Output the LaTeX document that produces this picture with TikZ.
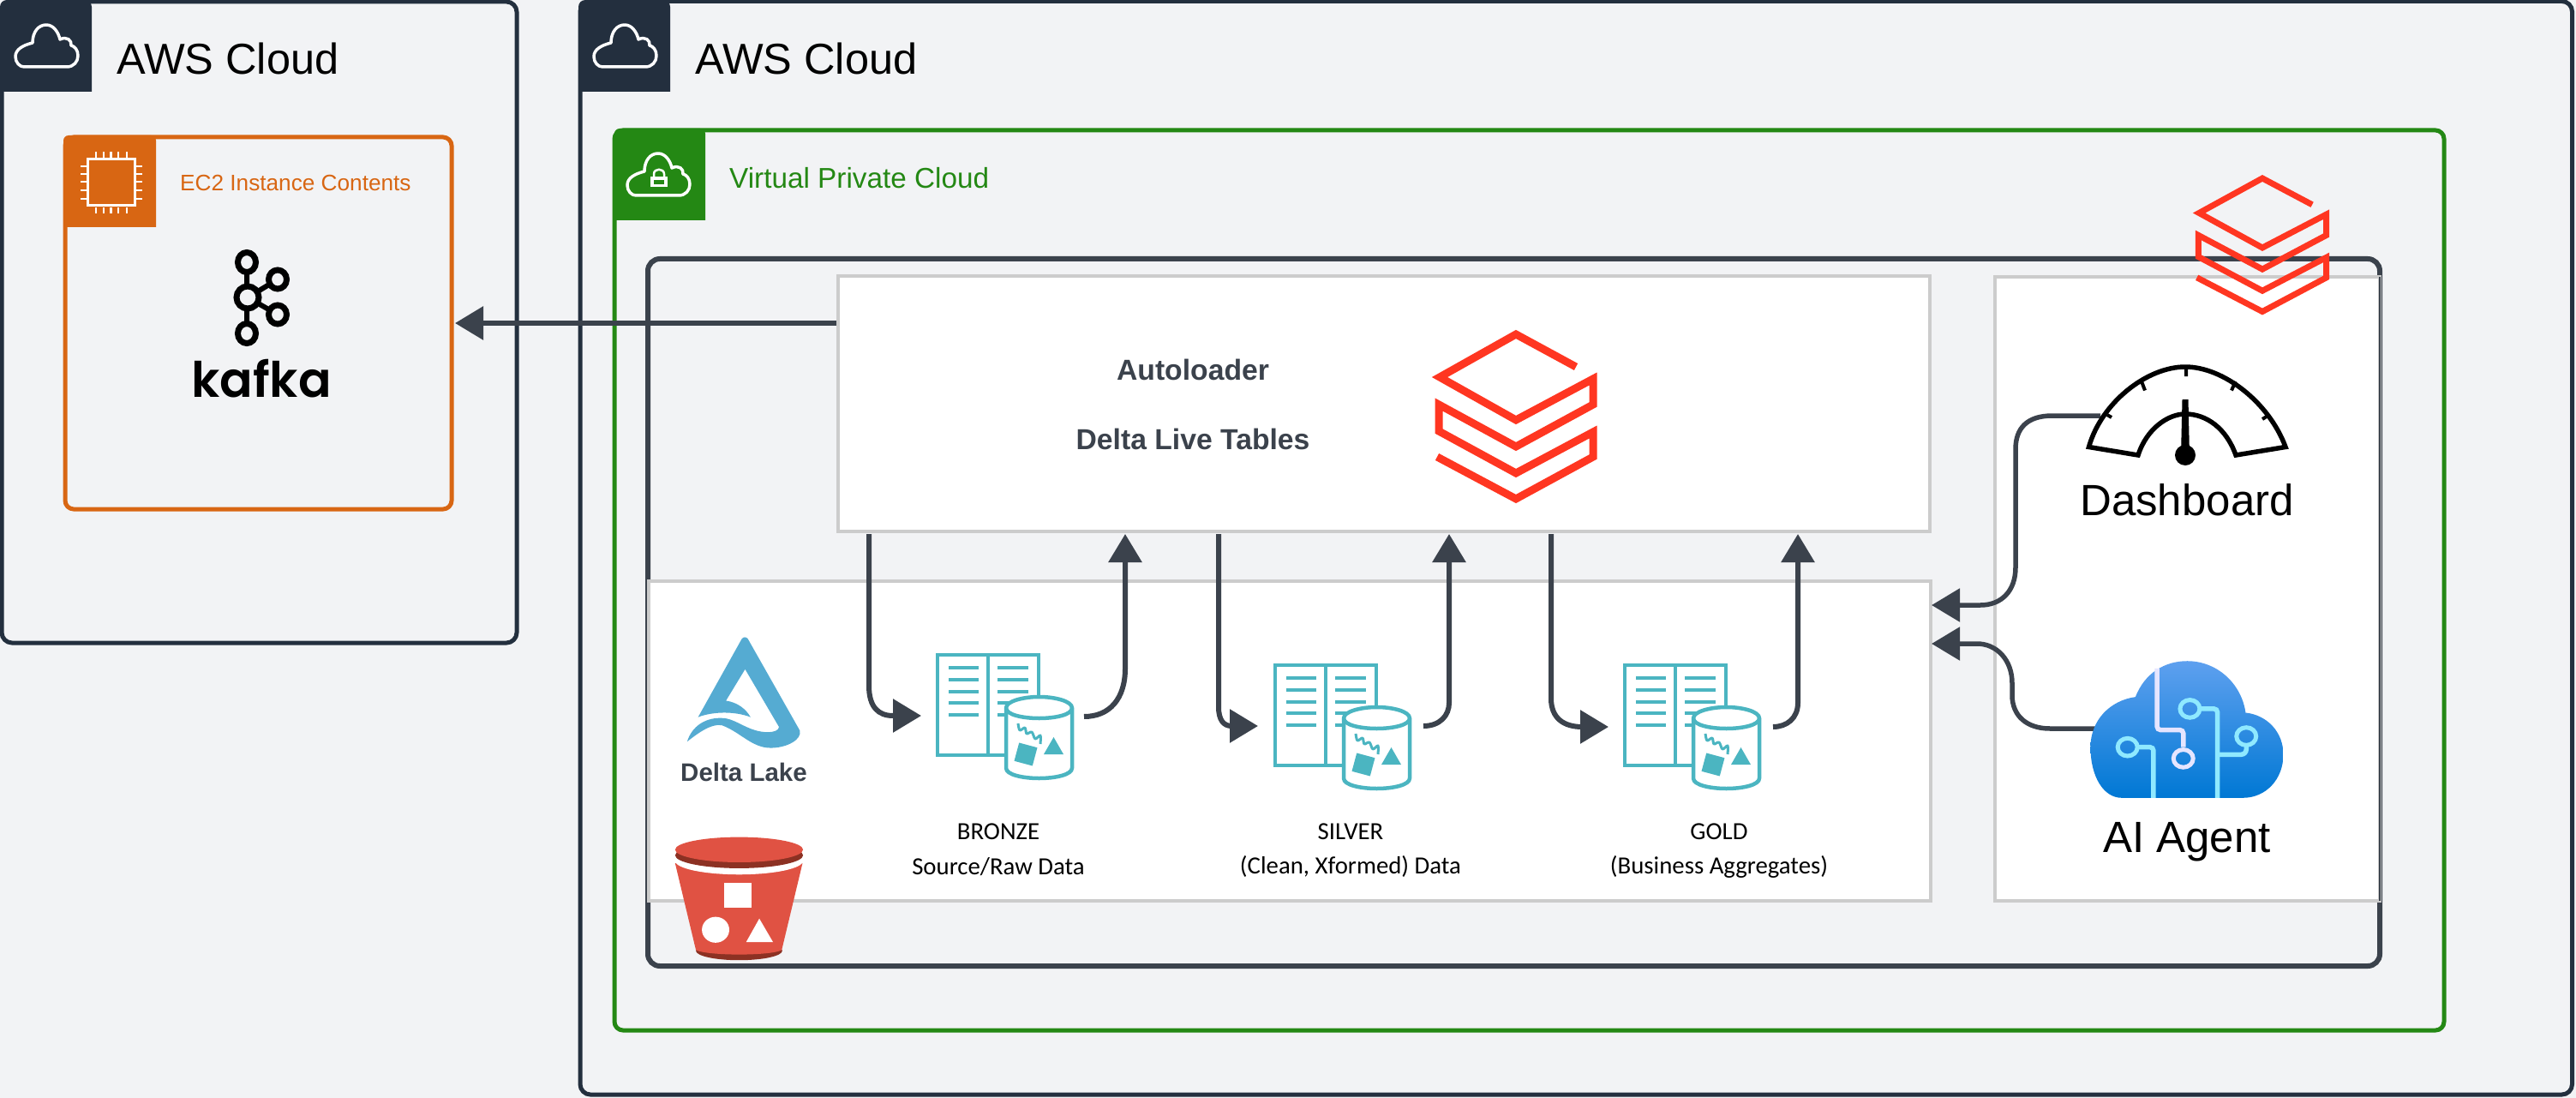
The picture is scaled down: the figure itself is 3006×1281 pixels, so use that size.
\documentclass[tikz,border=0pt]{standalone}
\usepackage{fontspec}
\usetikzlibrary{arrows.meta,calc}
\setmainfont{Liberation Sans}
\newfontfamily\lblfont{Carlito}
\newfontfamily\kafkafont{Poppins SemiBold}
\definecolor{pagebg}{HTML}{F2F3F5}
\definecolor{awsnavy}{HTML}{232F3E}
\definecolor{vpcgreen}{HTML}{248814}
\definecolor{ec2orange}{HTML}{D86613}
\definecolor{slateline}{HTML}{3B424C}
\definecolor{boxgray}{HTML}{CCCCCC}
\definecolor{teal}{HTML}{4BB5C1}
\definecolor{deltablue}{HTML}{55ABD2}
\definecolor{dbred}{HTML}{FF3621}
\definecolor{s3red}{HTML}{E05243}
\definecolor{s3dark}{HTML}{8C3123}
\definecolor{circuit}{HTML}{8FE9FF}
\definecolor{cloudtop}{HTML}{5EA0EF}
\definecolor{cloudbot}{HTML}{0078D4}
\newcommand{\fs}[1]{\fontsize{#1}{#1}\selectfont}
\tikzset{
  framebox/.style={draw=#1,rectangle,rounded corners=12pt,line width=5pt,inner sep=0pt,fill=pagebg},
  whitebox/.style={draw=boxgray,fill=white,rectangle,line width=4pt,inner sep=0pt},
  connector/.style={draw=slateline,line width=6pt},
  tipped/.style={connector,-{Triangle[length=33pt,width=38pt]}},
  lbl/.style={inner sep=0pt,text=black,font=\lblfont\fs{28.8}},
  headericon/.style={draw=white,line width=3.5pt,line join=round},
  pics/cloudicon/.style={code={
    \draw[headericon] (10,49) -- (60,49) .. controls (68,49) and (73,43) .. (73,36)
      .. controls (73,29) and (69,25) .. (65,24) .. controls (66,18) and (60,13) .. (52,17)
      .. controls (50,8) and (44,0) .. (36,0) .. controls (27,0) and (20,8) .. (20,21)
      .. controls (8,24) and (0,29) .. (0,37) .. controls (0,44) and (5,49) .. (10,49) -- cycle;
  }},
  pics/datalake/.style={code={
    \draw[teal,line width=4.5pt,fill=white] (0,0) rectangle (118,117);
    \draw[teal,line width=4.5pt] (59,0) -- (59,117);
    \foreach \yy in {15,29,42.5,56,69.5} {
      \draw[teal,line width=4pt] (13,\yy) -- (48,\yy);
      \draw[teal,line width=4pt] (70,\yy) -- (106,\yy);
    }
    \draw[teal,line width=4.5pt,fill=white] (80,62) -- (80,132)
      .. controls (80,140) and (100,144) .. (118.5,144)
      .. controls (137,144) and (157,140) .. (157,132) -- (157,62)
      .. controls (157,54) and (137,49) .. (118.5,49)
      .. controls (100,49) and (80,54) .. (80,62) -- cycle;
    \draw[teal,line width=4.5pt] (80,62) .. controls (80,70) and (100,74) .. (118.5,74)
      .. controls (137,74) and (157,70) .. (157,62);
    \draw[teal,line width=3pt,line join=round] plot[smooth] coordinates {(94,80) (96,88) (102,85) (104,92) (110,90) (114,98) (120,94) (120,104)};
    \fill[teal,rotate around={-15:(103,116)}] (92,105) rectangle (114,127);
    \fill[teal] (135.5,96) -- (147,116) -- (124,116) -- cycle;
  }},
  pics/dbxlogo/.style={code={
    \draw[dbred,line width=#1,miter limit=6] (70,-62) -- (0,-100) -- (-89,-50) -- (0,0) -- (90,-48) -- (90,-18) -- (0,31) -- (-90,-18) -- (-90,13) -- (0,62) -- (90,14) -- (90,43) -- (0,92) -- (-92,43);
  }},
}
\begin{document}
\begin{tikzpicture}[x=1pt,y=-1pt]
\useasboundingbox (0,0) rectangle (3006,1281);
\fill[pagebg] (0,0) rectangle (3006,1281);

% ---------- outer frames
\node[framebox=awsnavy,minimum width=601pt,minimum height=748pt] (awsL) at (302.5,376) {};
\node[framebox=awsnavy,minimum width=2324.5pt,minimum height=1275.5pt] (awsR) at (1839.25,639.25) {};
\node[framebox=vpcgreen,rounded corners=10pt,minimum width=2135pt,minimum height=1050pt] (vpc) at (1784.5,677) {};
\node[framebox=ec2orange,rounded corners=10pt,minimum width=451pt,minimum height=434pt] (ec2) at (301.5,377) {};
\node[draw=slateline,rounded corners=14pt,line width=6pt,rectangle,inner sep=0pt,minimum width=2021pt,minimum height=825pt] (inner) at (1766.5,714.5) {};

% ---------- headers
\fill[awsnavy,rounded corners=8pt] (0,107) -- (0,0) -- (107,0) [sharp corners] -- (107,107) -- cycle;
\fill[awsnavy,rounded corners=8pt] (675,107) -- (675,0) -- (782,0) [sharp corners] -- (782,107) -- cycle;
\fill[vpcgreen,rounded corners=6pt] (717,257) -- (717,150) -- (823,150) [sharp corners] -- (823,257) -- cycle;
\fill[ec2orange,rounded corners=6pt] (74,265) -- (74,158) -- (182,158) [sharp corners] -- (182,265) -- cycle;
\pic at (18,29) {cloudicon};
\pic at (693,29) {cloudicon};
\node[anchor=west,inner sep=0pt,font=\fs{50.5}] (awsLt) at (136,68.5) {AWS Cloud};
\node[anchor=west,inner sep=0pt,font=\fs{50.5}] (awsRt) at (811,68.5) {AWS Cloud};
\node[anchor=west,inner sep=0pt,font=\fs{26.2},text=ec2orange] (ec2t) at (210,213) {EC2 Instance Contents};
\node[anchor=west,inner sep=0pt,font=\fs{33.3},text=vpcgreen] (vpct) at (851,208) {Virtual Private Cloud};

% VPC cloud with lock
\begin{scope}[shift={(732,179)},xscale=1.07,yscale=1.02]
\pic {cloudicon};
\end{scope}
\fill[white] (759,206) rectangle (779,218);
\fill[vpcgreen] (763,210) rectangle (775,215);
\draw[white,line width=2.5pt] (763,206) -- (763,203) .. controls (763,196) and (775,196) .. (775,203) -- (775,206);

% EC2 chip
\draw[white,line width=3pt] (102,186) rectangle (157.5,240);
\foreach \xx in {112,121,129.5,138,148} {
  \draw[white,line width=2.5pt] (\xx,177.5) -- (\xx,184.5);
  \draw[white,line width=2.5pt] (\xx,242) -- (\xx,249);
}
\foreach \yy in {194,203,212,222,232} {
  \draw[white,line width=2.5pt] (94,\yy) -- (101,\yy);
  \draw[white,line width=2.5pt] (159,\yy) -- (166,\yy);
}

% Kafka
\begin{scope}[draw=black,line width=5pt]
\draw[line width=6pt] (288,306) -- (288,389) (289,347) -- (324,326) (289,347) -- (324,367);
\draw[fill=pagebg,line width=7pt] (289,347) ellipse [x radius=13,y radius=13];
\draw[fill=pagebg,line width=7pt] (288,306) ellipse [x radius=10.5,y radius=11.5];
\draw[fill=pagebg,line width=7pt] (288,389) ellipse [x radius=10.5,y radius=11.5];
\draw[fill=pagebg,line width=7pt] (324,326) ellipse [x radius=10.5,y radius=11];
\draw[fill=pagebg,line width=7pt] (324,367) ellipse [x radius=10.5,y radius=11];
\end{scope}
\node[anchor=base,inner sep=0pt,font=\kafkafont\fs{57}] (kafka) at (305,463) {kafka};

% ---------- white boxes
\node[whitebox,minimum width=1496pt,minimum height=373pt] (delta) at (1505,864.5) {};
\node[whitebox,minimum width=1274pt,minimum height=298pt] (auto) at (1615,471) {};
\node[whitebox,minimum width=449pt,minimum height=728pt] (right) at (2552.5,687) {};
\draw[slateline,line width=2pt] (2777,323) -- (2777,1051);

\node[font=\bfseries\fs{33.7},text=slateline,inner sep=0pt] (autot) at (1392,431) {Autoloader};
\node[font=\bfseries\fs{33.7},text=slateline,inner sep=0pt] (dlt) at (1392,512) {Delta Live Tables};

% big Databricks logo
\pic at (1769,490) {dbxlogo=9pt};

% ---------- data icons
\pic at (1094,764) {datalake};
\pic at (1488,776) {datalake};
\pic at (1896,776) {datalake};
\node[lbl] (bz1) at (1165,970) {BRONZE};
\node[lbl] (bz2) at (1165,1011) {Source/Raw Data};
\node[lbl] (sv1) at (1576,970) {SILVER};
\node[lbl] (sv2) at (1576,1011) {(Clean, Xformed) Data};
\node[lbl] (gd1) at (2006,970) {GOLD};
\node[lbl] (gd2) at (2006,1011) {(Business Aggregates)};

% ---------- Delta Lake logo
\begin{scope}[shift={(740,640)},xscale=.6378,yscale=.408]
\fill[deltablue] (197,258) .. controls (200,252) and (205,252) .. (208,258)
  -- (303,520) .. controls (308,545) and (280,570) .. (250,570)
  .. controls (215,570) and (195,525) .. (160,505)
  .. controls (140,500) and (115,530) .. (97,552)
  .. controls (105,510) and (130,480) .. (165,485)
  .. controls (190,490) and (210,525) .. (245,525)
  .. controls (255,525) and (265,520) .. (265,510)
  -- (203,345) -- (168,435)
  .. controls (190,440) and (205,460) .. (213,482)
  .. controls (185,465) and (145,465) .. (117,482) -- cycle;
\end{scope}
\node[font=\bfseries\fs{29.5},text=slateline,inner sep=0pt] (deltat) at (868,901) {Delta Lake};

% ---------- S3 bucket
\begin{scope}[shift={(740,640)},xscale=.6378,yscale=.408]
\fill[s3dark] (192,1150) ellipse [x radius=79,y radius=27];
\fill[s3red] (75,900) -- (113,1148) .. controls (135,1165) and (250,1165) .. (270,1148) -- (308,900) -- cycle;
\fill[white] (192,893) ellipse [x radius=117,y radius=39];
\fill[s3dark] (192,877) ellipse [x radius=117,y radius=37];
\fill[s3red] (192,861) ellipse [x radius=117,y radius=36];
\fill[white] (165,955) rectangle (215,1028);
\fill[white] (149,1090) ellipse [x radius=25,y radius=37];
\fill[white] (229,1058) -- (254,1125) -- (205,1125) -- cycle;
\end{scope}

% ---------- connectors
\coordinate (ec2tip) at (531,377);
\draw[tipped] (auto.west |- ec2tip) -- (ec2tip);

\coordinate (bzIn) at (1075,835);
\coordinate (bzOut) at (1265,836);
\coordinate (bzUp) at (1313,623);
\coordinate (svIn) at (1468,847);
\coordinate (svOut) at (1661,847);
\coordinate (svUp) at (1691,623);
\coordinate (gdIn) at (1877,848);
\coordinate (gdOut) at (2069,848);
\coordinate (gdUp) at (2098,623);
\coordinate (bzD) at (1014,623);
\coordinate (svD) at (1422,623);
\coordinate (gdD) at (1810,623);

\draw[tipped] (bzD) -- (1014,800) .. controls (1014,825) and (1025,835) .. (1042,835) -- (bzIn);
\draw[tipped] (bzOut) .. controls (1295,836) and (1313,815) .. (1313,780) -- (bzUp);
\draw[tipped] (svD) -- (1422,825) .. controls (1422,840) and (1428,847) .. (1437,847) -- (svIn);
\draw[tipped] (svOut) .. controls (1680,847) and (1691,835) .. (1691,820) -- (svUp);
\draw[tipped] (gdD) -- (1810,815) .. controls (1810,838) and (1825,848) .. (1846,848) -- (gdIn);
\draw[tipped] (gdOut) .. controls (2085,848) and (2098,838) .. (2098,820) -- (gdUp);

% ---------- gauge connector + agent connector
\coordinate (dashOut) at (2451,485);
\coordinate (agentOut) at (2445,850);
\coordinate (lakeA) at (2254,706);
\coordinate (lakeB) at (2254,751);
\draw[tipped,line width=5.5pt] (dashOut) -- (2395,485) .. controls (2365,485) and (2352,500) .. (2352,524) -- (2352,662)
  .. controls (2352,690) and (2335,706) .. (2311,706) -- (2287,706) -- (lakeA);
\draw[tipped,line width=5.5pt] (agentOut) -- (2392,850) .. controls (2365,850) and (2348,835) .. (2348,811) -- (2348,797)
  .. controls (2348,770) and (2330,751) .. (2307,751) -- (2287,751) -- (lakeB);

% ---------- gauge
\draw[black,fill=white,line width=5.5pt,line join=miter] (2437.5,521.5) .. controls (2452,470) and (2505,428) .. (2550,428)
  .. controls (2595,428) and (2648,470) .. (2667,521.5) -- (2609,531)
  .. controls (2598,500) and (2575,483) .. (2550,483)
  .. controls (2530,483) and (2505,500) .. (2495,531) -- cycle;
\draw[black,line width=4pt] (2459,484) -- (2464,487) (2499,445) -- (2503,455.5) (2551,430) -- (2551,439) (2604,455.5) -- (2608.6,445) (2640,489) -- (2648,484);
\fill[black] (2546.5,466) -- (2553.5,466) -- (2555,531) -- (2545,531) -- cycle;
\fill[black] (2550,531) circle [radius=12];
\node[font=\fs{51},inner sep=0pt,text=black] (dash) at (2552,583) {Dashboard};

% ---------- AI cloud
\begin{scope}[shift={(2250,180)},xscale=.3827,yscale=.574]
\shade[top color=cloudtop,bottom color=cloudbot]
 (590,1308) -- (960,1308) .. controls (1030,1308) and (1083,1270) .. (1083,1220)
  .. controls (1083,1175) and (1035,1140) .. (968,1135)
  .. controls (955,1075) and (880,1030) .. (790,1030)
  .. controls (720,1030) and (660,1055) .. (632,1103)
  .. controls (555,1110) and (495,1150) .. (495,1205)
  .. controls (495,1265) and (535,1308) .. (590,1308) -- cycle;
\draw[white!90!blue,line width=5.5pt,rounded corners=4pt] (698,1045) -- (698,1170) -- (778,1170) -- (778,1205);
\draw[white!90!blue,line width=5pt] (778,1228) ellipse [x radius=30,y radius=18];
\draw[circuit,line width=5.5pt,rounded corners=4pt] (825,1127) -- (882,1127) -- (882,1308);
\draw[circuit,line width=5.5pt,rounded corners=6pt] (882,1220) -- (970,1220) -- (970,1200);
\draw[circuit,line width=5.5pt,rounded corners=4pt] (638,1205) -- (687,1205) -- (687,1308);
\draw[circuit,line width=5pt] (798,1127) ellipse [x radius=30,y radius=18];
\draw[circuit,line width=5pt] (970,1183) ellipse [x radius=30,y radius=18];
\draw[circuit,line width=5pt] (608,1205) ellipse [x radius=30,y radius=18];
\end{scope}
\node[font=\fs{51},inner sep=0pt,text=black,anchor=base] (agent) at (2552,994) {AI Agent};

% ---------- small Databricks logo on top
\pic[xscale=.83,yscale=.81] at (2640,289) {dbxlogo=7pt};
\end{tikzpicture}
\end{document}
